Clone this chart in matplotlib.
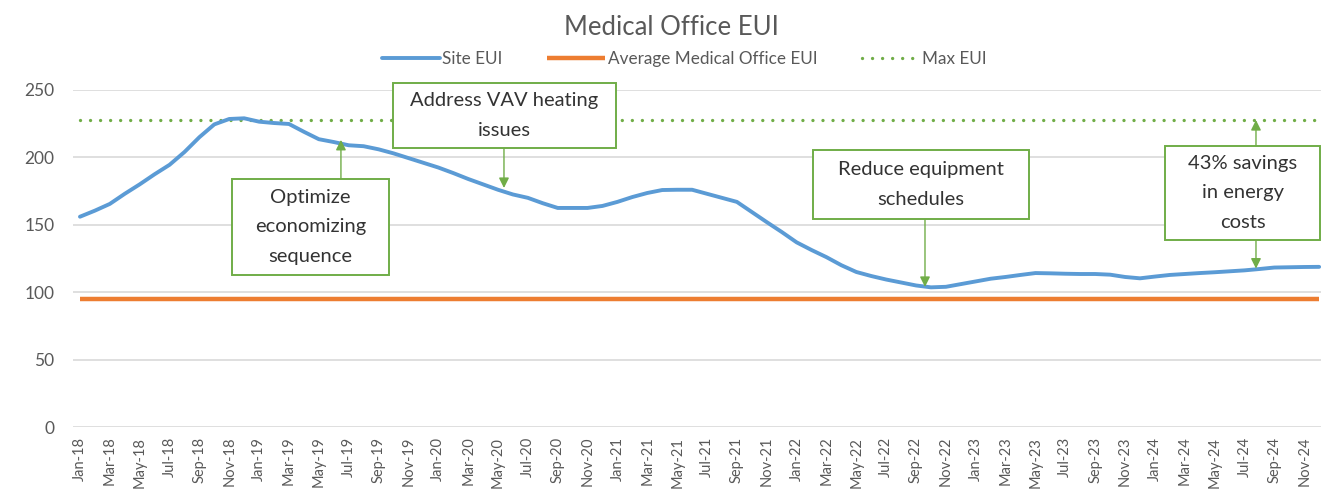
import matplotlib
matplotlib.use("Agg")
import matplotlib.pyplot as plt
from matplotlib.patches import Rectangle

# ---------------- data ----------------
months = ["Jan", "Feb", "Mar", "Apr", "May", "Jun", "Jul", "Aug", "Sep", "Oct", "Nov", "Dec"]
years = ["18", "19", "20", "21", "22", "23", "24"]
categories = [f"{m}-{y}" for y in years for m in months]

site_eui = [
    156, 160.5, 165.5, 173, 180, 187.5, 194.5, 204, 215, 224.5, 228.5, 229,        # 2018
    226.5, 225.5, 224.8, 219, 213.5, 211.4, 209, 208.3, 206, 203, 199.5, 196,      # 2019
    192.5, 188.4, 184, 180, 176, 172.5, 170, 166, 162.5, 162.5, 162.5, 164,        # 2020
    167, 170.6, 173.6, 175.8, 176, 176, 173, 170, 167, 159.5, 152, 144.7,          # 2021
    137, 131.3, 126, 120, 115, 112, 109.4, 107.2, 105, 103.6, 104, 106,            # 2022
    108, 110, 111.3, 112.8, 114.2, 114, 113.7, 113.5, 113.5, 113, 111.3, 110.3,    # 2023
    111.6, 112.8, 113.5, 114.2, 114.8, 115.5, 116.2, 117.2, 118.3, 118.5, 118.7, 118.8,  # 2024
]
avg_medical_office_eui = [95.3] * len(categories)
max_eui = [227.7] * len(categories)

yticks = [0, 50, 100, 150, 200, 250]

# annotation boxes: text, box (x0, x1, y0, y1) in data units, arrows [(x, y_from, y_to)]
annotations = [
    ("Optimize\neconomizing\nsequence", (10.18, 20.70, 112.8, 184.0), [(17.48, 184.0, 213.0)]),
    ("Address VAV heating\nissues", (20.96, 35.90, 207.0, 255.2), [(28.4, 207.0, 177.3)]),
    ("Reduce equipment\nschedules", (49.1, 63.6, 154.3, 205.5), [(56.6, 154.3, 103.9)]),
    ("43% savings\nin energy\ncosts", (72.7, 83.05, 138.7, 208.5), [(78.77, 208.5, 227.7), (78.77, 138.7, 117.5)]),
]

# ---------------- style ----------------
plt.rcParams['font.family'] = ['Lato', 'DejaVu Sans']
BLUE = "#5B9BD5"
ORANGE = "#ED7D31"
GREEN = "#70AD47"
GREY_TXT = "#595959"
GRID = "#D9D9D9"

W, H = 1321, 497
fig = plt.figure(figsize=(W / 100, H / 100), dpi=100)
left_px, right_px, top_px, bottom_px = 72.5, 1326.6, 90, 427
ax = fig.add_axes([left_px / W, (H - bottom_px) / H, (right_px - left_px) / W, (bottom_px - top_px) / H])

x = list(range(len(categories)))
ax.plot(x, avg_medical_office_eui, color=ORANGE, lw=3.2, solid_capstyle="butt",
        label="Average Medical Office EUI", zorder=3)
ax.plot(x, max_eui, color=GREEN, lw=2.4, linestyle=(0, (0.01, 3.0)), dash_capstyle="round",
        label="Max EUI", zorder=3)
ax.plot(x, site_eui, color=BLUE, lw=2.8, solid_joinstyle="round", solid_capstyle="round",
        label="Site EUI", zorder=4)

ax.set_xlim(-0.5, len(categories) - 0.5)
ax.set_ylim(0, 250)
ax.set_yticks(yticks)
ax.set_xticks(x[::2])
ax.set_xticklabels(categories[::2], rotation=90)
ax.tick_params(axis="both", length=0, colors=GREY_TXT)
ax.tick_params(axis="y", pad=13, labelsize=12.5)
ax.tick_params(axis="x", pad=7, labelsize=10.5)
ax.grid(axis="y", color=GRID, lw=1.2)
ax.set_axisbelow(True)
for s in ax.spines.values():
    s.set_visible(False)

# annotations
for text, (x0, x1, y0, y1), arrows in annotations:
    rect = Rectangle((x0, y0), x1 - x0, y1 - y0, facecolor="white", edgecolor=GREEN,
                     lw=1.4, zorder=6, clip_on=False)
    ax.add_patch(rect)
    ax.text((x0 + x1) / 2, (y0 + y1) / 2, text, ha="center", va="center", fontsize=14.5,
            color="#333333", linespacing=1.9, zorder=7, clip_on=False)
    for ax_x, y_from, y_to in arrows:
        ax.annotate("", xy=(ax_x, y_to), xytext=(ax_x, y_from),
                    arrowprops=dict(arrowstyle="-|>", color=GREEN, lw=1.0,
                                    mutation_scale=15, shrinkA=0, shrinkB=0),
                    zorder=5, annotation_clip=False)

fig.text(0.508, 0.944, "Medical Office EUI", ha="center", va="center", fontsize=18.5, color=GREY_TXT)

handles, labels = ax.get_legend_handles_labels()
order = [2, 0, 1]
leg = fig.legend([handles[i] for i in order], [labels[i] for i in order],
                 loc="center", bbox_to_anchor=(0.518, 0.882), ncol=3, frameon=False,
                 fontsize=12.3, handlelength=3.4, handletextpad=0.15, columnspacing=2.6)
for t in leg.get_texts():
    t.set_color(GREY_TXT)

fig.savefig("out.png", dpi=100)
